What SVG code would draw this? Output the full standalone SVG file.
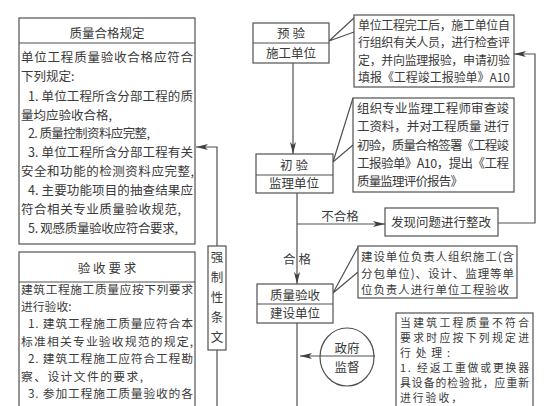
<svg xmlns="http://www.w3.org/2000/svg" width="560" height="406" viewBox="0 0 560 406">
<style>
text{font-family:"Noto Sans CJK SC","Liberation Serif",sans-serif;fill:#3a3a3a;font-size:12.5px}
.c{text-anchor:middle}
.box{fill:#fff;stroke:#505050;stroke-width:1.2}
.ln{fill:none;stroke:#505050;stroke-width:1.2}
.b2{font-size:11.8px}
.n1{font-size:12px}
.n3{font-size:11.5px}
.n4{font-size:10.8px}
</style>
<defs>
<marker id="ar" viewBox="0 0 12 6" refX="12" refY="3" markerWidth="12" markerHeight="6" markerUnits="userSpaceOnUse" orient="auto">
<path d="M0,0 L12,3 L0,6 L3,3 Z" fill="#404040"/>
</marker>
</defs>
<rect width="560" height="406" fill="#fff"/>

<g id="connectors">
<path class="ln" d="M293,63 V154" marker-end="url(#ar)"/>
<path class="ln" d="M297,193 V284" marker-end="url(#ar)"/>
<path class="ln" d="M297,224 H385" marker-end="url(#ar)"/>
<path class="ln" d="M498,223 H535 V54 H514" marker-end="url(#ar)"/>
<path class="ln" d="M297,323 V406"/>
<path class="ln" d="M375,356 H300" marker-end="url(#ar)"/>
<path class="ln" d="M217,246 V147 H196" marker-end="url(#ar)"/>
<path class="ln" d="M217,350 V406"/>
<path class="ln" d="M354,18 L329,41 L354,32"/>
<path class="ln" d="M353,98 L333,162 L353,145"/>
<path class="ln" d="M358,247 L333,293 L358,272"/>
</g>

<g id="rule-quality">
<rect class="box" x="19" y="18" width="176" height="226"/>
<line class="ln" x1="19" y1="43" x2="195" y2="43"/>
<text class="c" x="107" y="37.5" font-size="13">质量合格规定</text>
<text x="21" y="61.5" textLength="172" lengthAdjust="spacing">单位工程质量验收合格应符合</text>
<text x="21" y="80.5">下列规定:</text>
<text x="28" y="100.5" textLength="165" lengthAdjust="spacing">1. 单位工程所含分部工程的质</text>
<text x="21" y="119.5">量均应验收合格,</text>
<text x="28" y="138" textLength="122" lengthAdjust="spacing">2. 质量控制资料应完整,</text>
<text x="28" y="156.5" textLength="165" lengthAdjust="spacing">3. 单位工程所含分部工程有关</text>
<text x="21" y="175.5" textLength="173" lengthAdjust="spacing">安全和功能的检测资料应完整,</text>
<text x="28" y="194.5" textLength="165" lengthAdjust="spacing">4. 主要功能项目的抽查结果应</text>
<text x="21" y="213.5" textLength="160" lengthAdjust="spacing">符合相关专业质量验收规范,</text>
<text x="28" y="232.5" textLength="150" lengthAdjust="spacing">5. 观感质量验收应符合要求,</text>
</g>

<g id="rule-acceptance">
<rect class="box" x="19" y="252" width="176" height="170"/>
<line class="ln" x1="19" y1="282" x2="195" y2="282"/>
<text class="c" x="107" y="272.5" font-size="13">验 收 要 求</text>
<text class="b2" x="21" y="293.5" textLength="172" lengthAdjust="spacing">建筑工程施工质量应按下列要求</text>
<text class="b2" x="21" y="310.5">进行验收:</text>
<text class="b2" x="28" y="327.5" textLength="165" lengthAdjust="spacing">1. 建筑工程施工质量应符合本</text>
<text class="b2" x="21" y="345.5" textLength="172" lengthAdjust="spacing">标准相关专业验收规范的规定,</text>
<text class="b2" x="28" y="362.5" textLength="165" lengthAdjust="spacing">2. 建筑工程施工应符合工程勘</text>
<text class="b2" x="21" y="380.5" textLength="122" lengthAdjust="spacing">察、设计文件的要求,</text>
<text class="b2" x="28" y="397.5" textLength="165" lengthAdjust="spacing">3. 参加工程施工质量验收的各</text>
</g>

<g id="mandatory">
<rect class="box" x="208" y="246" width="18" height="104"/>
<text class="c" x="217" y="261.5" font-size="13">强</text>
<text class="c" x="217" y="281.5" font-size="13">制</text>
<text class="c" x="217" y="301.5" font-size="13">性</text>
<text class="c" x="217" y="321.5" font-size="13">条</text>
<text class="c" x="217" y="341.5" font-size="13">文</text>
</g>

<g id="pre-inspection">
<rect class="box" x="253" y="23" width="76" height="40"/>
<line class="ln" x1="253" y1="43" x2="329" y2="43"/>
<text class="c" x="291" y="37.5" font-size="13">预  验</text>
<text class="c" x="291" y="57.5" font-size="13">施工单位</text>
</g>

<g id="first-inspection">
<rect class="box" x="256" y="154" width="77" height="39"/>
<line class="ln" x1="256" y1="175" x2="333" y2="175"/>
<text class="c" x="294" y="169.5" font-size="13">初  验</text>
<text class="c" x="294" y="188" font-size="13">监理单位</text>
</g>

<g id="quality-acceptance">
<rect class="box" x="257" y="284" width="76" height="39"/>
<line class="ln" x1="257" y1="304" x2="333" y2="304"/>
<text class="c" x="295" y="299.5" font-size="13">质量验收</text>
<text class="c" x="295" y="317.5" font-size="13">建设单位</text>
</g>

<g id="labels">
<text class="c" x="340" y="220.5" font-size="13">不合格</text>
<text class="c" x="297" y="263.5" font-size="13">合  格</text>
</g>

<g id="rectify">
<rect class="box" x="385" y="208" width="113" height="28"/>
<text class="c" x="441" y="226.5" font-size="13">发现问题进行整改</text>
</g>

<g id="note-pre">
<rect class="box" x="354" y="15" width="160" height="72"/>
<text class="n1" x="358" y="29.5" textLength="152" lengthAdjust="spacing">单位工程完工后，施工单位自</text>
<text class="n1" x="358" y="46.5" textLength="152" lengthAdjust="spacing">行组织有关人员，进行检查评</text>
<text class="n1" x="358" y="64.5" textLength="152" lengthAdjust="spacing">定，并向监理报验，申请初验</text>
<text class="n1" x="358" y="81.5" textLength="152" lengthAdjust="spacing">填报《工程竣工报验单》A10</text>
</g>

<g id="note-first">
<rect class="box" x="353" y="98" width="161" height="94"/>
<text x="357" y="112.5" textLength="152" lengthAdjust="spacing">组织专业监理工程师审查竣</text>
<text x="357" y="130.5" textLength="152" lengthAdjust="spacing">工资料，并对工程质量 进行</text>
<text x="357" y="149.5" textLength="152" lengthAdjust="spacing">初验，质量合格签署《工程竣</text>
<text x="357" y="167.5" textLength="152" lengthAdjust="spacing">工报验单》A10，提出《工程</text>
<text x="357" y="185.5" textLength="106" lengthAdjust="spacing">质量监理评价报告》</text>
</g>

<g id="note-acceptance">
<rect class="box" x="358" y="246" width="159" height="52"/>
<text class="n3" x="361" y="261" textLength="153" lengthAdjust="spacing">建设单位负责人组织施工(含</text>
<text class="n3" x="361" y="277.5" textLength="153" lengthAdjust="spacing">分包单位)、设计、监理等单</text>
<text class="n3" x="361" y="294" textLength="148" lengthAdjust="spacing">位负责人进行单位工程验收</text>
</g>

<g id="government">
<ellipse class="box" cx="347" cy="357" rx="27" ry="29"/>
<line class="ln" x1="320" y1="356" x2="375" y2="356"/>
<text class="c" x="347" y="352.5" font-size="13">政府</text>
<text class="c" x="347" y="372" font-size="11">监督</text>
</g>

<g id="note-nonconform">
<rect class="box" x="396" y="313" width="137" height="110"/>
<text class="n4" x="400" y="327" textLength="129" lengthAdjust="spacing">当建筑工程质量不符合</text>
<text class="n4" x="400" y="342" textLength="129" lengthAdjust="spacing">要求时应按下列规定进</text>
<text class="n4" x="400" y="357" textLength="50" lengthAdjust="spacing">行处理:</text>
<text class="n4" x="400" y="372" textLength="129" lengthAdjust="spacing">1. 经返工重做或更换器</text>
<text class="n4" x="400" y="387" textLength="129" lengthAdjust="spacing">具设备的检验批，应重新</text>
<text class="n4" x="400" y="402" textLength="62" lengthAdjust="spacing">进行验收，</text>
</g>
</svg>
